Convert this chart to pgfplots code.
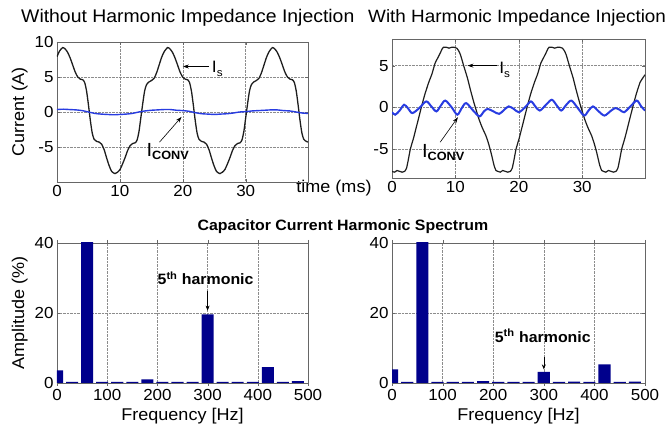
\documentclass[border=0pt]{standalone}
\usepackage{pgfplots}
\pgfplotsset{compat=1.18}
\usepackage{fontspec}
\setmainfont{Liberation Sans}[FakeStretch=1.06]
\usetikzlibrary{arrows.meta}

\definecolor{traceK}{RGB}{30,30,30}
\definecolor{traceB}{RGB}{40,60,225}
\definecolor{barnavy}{RGB}{0,0,140}

\pgfplotsset{
  scopeplot/.style={
    scale only axis,
    axis line style={black!60},
    grid=major,
    grid style={densely dotted, black!45, line width=0.6pt},
    tick align=inside,
    major tick length=3pt,
    tick style={black!60},
    tick label style={font=\fontsize{16}{16}\selectfont},
    label style={font=\fontsize{17}{17}\selectfont},
    /pgf/number format/assume math mode=true,
  },
  spectrum/.style={
    scopeplot,
    xmin=0, xmax=500, ymin=0, ymax=40,
    xtick={0,100,200,300,400,500},
    ytick={0,20,40},
    ybar, bar width=24, bar shift=0pt,
    xlabel={Frequency [Hz]},
  },
}

\newcommand{\Is}{I\raisebox{-0.45ex}{\fontsize{11}{11}\selectfont s}}
\newcommand{\Iconv}{{\fontsize{19}{19}\selectfont I}\raisebox{-0.55ex}{\bfseries\fontsize{12}{12}\selectfont CONV}}

\begin{document}
\begin{tikzpicture}
\path[use as bounding box, clip] (0pt,0pt) rectangle (670pt,425pt);

% ---- titles ----
\node[anchor=west, font=\fontsize{18.3}{19}\selectfont, inner sep=0pt] at (21pt,407pt) {Without Harmonic Impedance Injection};
\node[anchor=west, font=\fontsize{17.8}{19}\selectfont, inner sep=0pt] at (368pt,407pt) {With Harmonic Impedance Injection};
\node[font=\bfseries\fontsize{15}{15}\selectfont] at (343pt,198pt) {Capacitor Current Harmonic Spectrum};
\node[font=\fontsize{17}{17}\selectfont] at (334pt,237pt) {time (ms)};

% ---- source and converter current, no injection ----
\begin{axis}[scopeplot, at={(57pt,243pt)}, anchor=south west,
  width=251pt, height=140pt,
  xmin=0, xmax=39.9, ymin=-10, ymax=10,
  xtick={0,10,20,30},
  ytick={-10,-5,0,5,10}, yticklabels={,-5,0,5,10},
  ylabel={Current (A)}]
\addplot[traceK, line width=1.3pt, smooth, tension=0.45] coordinates {
(0.0,7.9) (0.4,8.7) (0.9,9.2) (1.3,9.0) (1.7,8.5) (2.1,7.7) (2.5,6.7) (2.9,5.7)
(3.3,5.0) (3.7,4.7) (4.1,4.6) (4.4,4.2) (4.7,3.0) (5.0,1.0) (5.3,-1.2) (5.6,-3.0)
(5.9,-3.9) (6.3,-4.2) (6.7,-4.3) (7.1,-4.6) (7.5,-5.4) (7.9,-6.6) (8.3,-7.7) (8.7,-8.5)
(9.23,-8.8) (9.63,-8.6) (10.03,-8.2) (10.43,-7.4) (10.83,-6.5) (11.23,-5.5) (11.63,-4.8)
(12.03,-4.5) (12.43,-4.4) (12.73,-4.0) (13.03,-2.8) (13.33,-0.8) (13.63,1.2) (13.93,3.0)
(14.23,3.9) (14.63,4.3) (15.03,4.5) (15.43,4.8) (15.83,5.6) (16.23,6.7) (16.63,7.8)
(17.03,8.6) (17.57,9.2) (17.97,9.0) (18.37,8.5) (18.77,7.7) (19.17,6.7) (19.57,5.7)
(19.97,5.0) (20.37,4.7) (20.77,4.6) (21.07,4.2) (21.37,3.0) (21.67,1.0) (21.97,-1.2)
(22.27,-3.0) (22.57,-3.9) (22.97,-4.2) (23.37,-4.3) (23.77,-4.6) (24.17,-5.4) (24.57,-6.6)
(24.97,-7.7) (25.37,-8.5) (25.9,-8.8) (26.3,-8.6) (26.7,-8.2) (27.1,-7.4) (27.5,-6.5)
(27.9,-5.5) (28.3,-4.8) (28.7,-4.5) (29.1,-4.4) (29.4,-4.0) (29.7,-2.8) (30.0,-0.8)
(30.3,1.2) (30.6,3.0) (30.9,3.9) (31.3,4.3) (31.7,4.5) (32.1,4.8) (32.5,5.6) (32.9,6.7)
(33.3,7.8) (33.7,8.6) (34.23,9.2) (34.63,9.0) (35.03,8.5) (35.43,7.7) (35.83,6.7)
(36.23,5.7) (36.63,5.0) (37.03,4.7) (37.43,4.6) (37.73,4.2) (38.03,3.0) (38.33,1.0)
(38.63,-1.2) (38.93,-3.0) (39.23,-3.9) (39.63,-4.2) (39.9,-4.3)
};
\addplot[traceB, line width=1.4pt, smooth] coordinates {
(0.0,0.35) (1.0,0.4) (2.0,0.35) (3.0,0.3) (4.0,0.2) (5.0,0.0) (6.0,-0.2) (7.0,-0.3)
(8.0,-0.35) (9.0,-0.4) (10.0,-0.35) (11.0,-0.3) (12.0,-0.2) (13.0,0.0) (14.0,0.15)
(15.0,0.25) (16.0,0.3) (17.0,0.35) (18.0,0.35) (19.0,0.25) (20.0,0.2) (21.0,0.1)
(22.0,-0.1) (23.0,-0.25) (24.0,-0.3) (25.0,-0.35) (26.0,-0.3) (27.0,-0.25) (28.0,-0.15)
(29.0,0.0) (30.0,0.05) (31.0,0.15) (32.0,0.2) (33.0,0.25) (34.0,0.3) (35.0,0.3)
(36.0,0.2) (37.0,0.15) (38.0,0.0) (39.0,-0.15) (39.9,-0.2)
};
\draw[black, line width=0.6pt, -{Stealth[length=6pt,width=4pt]}] (axis cs:24.2,6.5) -- (axis cs:20.0,6.5);
\node[anchor=base west, font=\fontsize{16.5}{17}\selectfont, inner sep=0pt] at (axis cs:24.6,5.6) {\Is};
\draw[black, line width=0.6pt, -{Stealth[length=6pt,width=4pt]}] (axis cs:16.3,-4.3) -- (axis cs:19.8,-0.7);
\node[anchor=base west, inner sep=0pt] at (axis cs:14.2,-6.4) {\Iconv};
\end{axis}

% ---- source and converter current, with injection ----
\begin{axis}[scopeplot, at={(392pt,247pt)}, anchor=south west,
  width=253pt, height=139pt,
  xmin=0, xmax=39.9, ymin=-8.5, ymax=8.2,
  xtick={0,10,20,30},
  ytick={-5,0,5}, yticklabels={-5,0,5}]
\addplot[traceK, line width=1.2pt, smooth, tension=0.3] coordinates {
(0.0,-7.7) (0.4,-7.8) (0.8,-7.6) (1.2,-7.7) (1.6,-7.8) (2.0,-7.7) (2.3,-7.3) (2.6,-6.2)
(2.9,-5.0) (3.4,-3.7) (3.9,-2.2) (4.3,-1.0) (4.7,0.2) (5.2,1.6) (5.8,3.0) (6.3,4.0)
(6.8,5.3) (7.2,5.9) (7.6,6.5) (7.9,7.0) (8.1,7.2) (8.6,7.2) (9.0,7.1) (9.4,7.2)
(9.8,7.2) (10.2,7.1) (10.5,6.8) (10.8,6.3) (11.3,5.0) (11.9,3.5) (12.4,2.0) (12.9,0.6)
(13.3,-0.4) (13.7,-1.4) (14.2,-2.4) (14.8,-3.4) (15.2,-4.3) (15.6,-5.4) (16.1,-7.0)
(16.4,-7.6) (16.67,-7.7) (17.07,-7.8) (17.47,-7.6) (17.87,-7.7) (18.27,-7.8) (18.67,-7.7)
(18.97,-7.3) (19.27,-6.2) (19.57,-5.0) (20.07,-3.7) (20.57,-2.2) (20.97,-1.0) (21.37,0.2)
(21.87,1.6) (22.47,3.0) (22.97,4.0) (23.47,5.3) (23.87,5.9) (24.27,6.5) (24.57,7.0)
(24.77,7.2) (25.27,7.2) (25.67,7.1) (26.07,7.2) (26.47,7.2) (26.87,7.1) (27.17,6.8)
(27.47,6.3) (27.97,5.0) (28.57,3.5) (29.07,2.0) (29.57,0.6) (29.97,-0.4) (30.37,-1.4)
(30.87,-2.4) (31.47,-3.4) (31.87,-4.3) (32.27,-5.4) (32.77,-7.0) (33.07,-7.6)
(33.33,-7.7) (33.73,-7.8) (34.13,-7.6) (34.53,-7.7) (34.93,-7.8) (35.33,-7.7)
(35.63,-7.3) (35.93,-6.2) (36.23,-5.0) (36.73,-3.7) (37.23,-2.2) (37.63,-1.0) (38.03,0.2)
(38.53,1.6) (39.13,3.0) (39.9,3.9)
};
\addplot[traceB, line width=2pt, smooth] coordinates {
(0.0,-0.6) (0.5,-0.9) (1.2,-0.4) (1.9,0.3) (2.5,-0.1) (3.2,-0.7) (4.3,-0.1) (5.4,0.7)
(6.2,0.1) (7.0,-0.5) (7.7,0.2) (8.4,0.8) (9.4,0.0) (10.3,-0.9) (11.0,-0.1) (11.7,0.5)
(12.8,-0.4) (13.8,-1.1) (14.5,-0.5) (15.1,-0.2) (16.0,-0.5) (16.9,-0.8) (17.7,-0.3)
(18.4,0.1) (19.2,-0.2) (20.0,-0.6) (21.0,0.0) (21.9,0.7) (22.6,0.1) (23.3,-0.4)
(24.3,0.3) (25.2,0.9) (26.0,0.2) (26.7,-0.4) (27.5,0.3) (28.3,0.8) (29.3,-0.1)
(30.3,-1.0) (31.0,-0.4) (31.7,0.1) (32.6,-0.5) (33.5,-1.0) (34.4,-0.5) (35.2,-0.1)
(35.9,-0.3) (36.6,-0.6) (37.6,0.1) (38.6,0.8) (39.3,0.1) (39.9,-0.4)
};
\draw[black, line width=0.6pt, -{Stealth[length=6pt,width=4pt]}] (axis cs:16.6,5.0) -- (axis cs:11.9,5.0);
\node[anchor=base west, font=\fontsize{16.5}{17}\selectfont, inner sep=0pt] at (axis cs:16.9,4.0) {\Is};
\draw[black, line width=0.6pt, -{Stealth[length=6pt,width=4pt]}] (axis cs:7.6,-4.2) -- (axis cs:10.4,-1.2);
\node[anchor=base west, inner sep=0pt] at (axis cs:4.7,-6.0) {\Iconv};
\end{axis}

% ---- capacitor current spectrum, no injection ----
\begin{axis}[spectrum, at={(57pt,42pt)}, anchor=south west,
  width=251pt, height=140pt,
  ylabel={Amplitude (\%)}]
\addplot[fill=barnavy, draw=none] coordinates {
(0,3.6) (30,0.3) (60,100) (90,0.3) (120,0.3) (150,0.3) (180,1.0) (210,0.3) (240,0.3)
(270,0.3) (300,19.6) (330,0.3) (360,0.3) (390,0.3) (420,4.5) (450,0.3) (480,0.5)
};
\node[anchor=base, font=\bfseries\fontsize{15}{15}\selectfont, inner sep=0pt] at (axis cs:296,28) {5\textsuperscript{th} harmonic};
\draw[black, line width=0.6pt, -{Stealth[length=5pt,width=4pt]}] (axis cs:300,26.4) -- (axis cs:300,20.7);
\end{axis}

% ---- capacitor current spectrum, with injection ----
\begin{axis}[spectrum, at={(392pt,42pt)}, anchor=south west,
  width=253pt, height=140pt]
\addplot[fill=barnavy, draw=none] coordinates {
(0,3.9) (30,0.3) (60,100) (90,0.3) (120,0.3) (150,0.3) (180,0.5) (210,0.3) (240,0.3)
(270,0.3) (300,3.2) (330,0.3) (360,0.4) (390,0.3) (420,5.3) (450,0.3) (480,0.4)
};
\node[anchor=base, font=\bfseries\fontsize{15}{15}\selectfont, inner sep=0pt] at (axis cs:298,11.7) {5\textsuperscript{th} harmonic};
\draw[black, line width=0.6pt, -{Stealth[length=5pt,width=4pt]}] (axis cs:300,7.4) -- (axis cs:300,3.9);
\end{axis}
\end{tikzpicture}
\end{document}
